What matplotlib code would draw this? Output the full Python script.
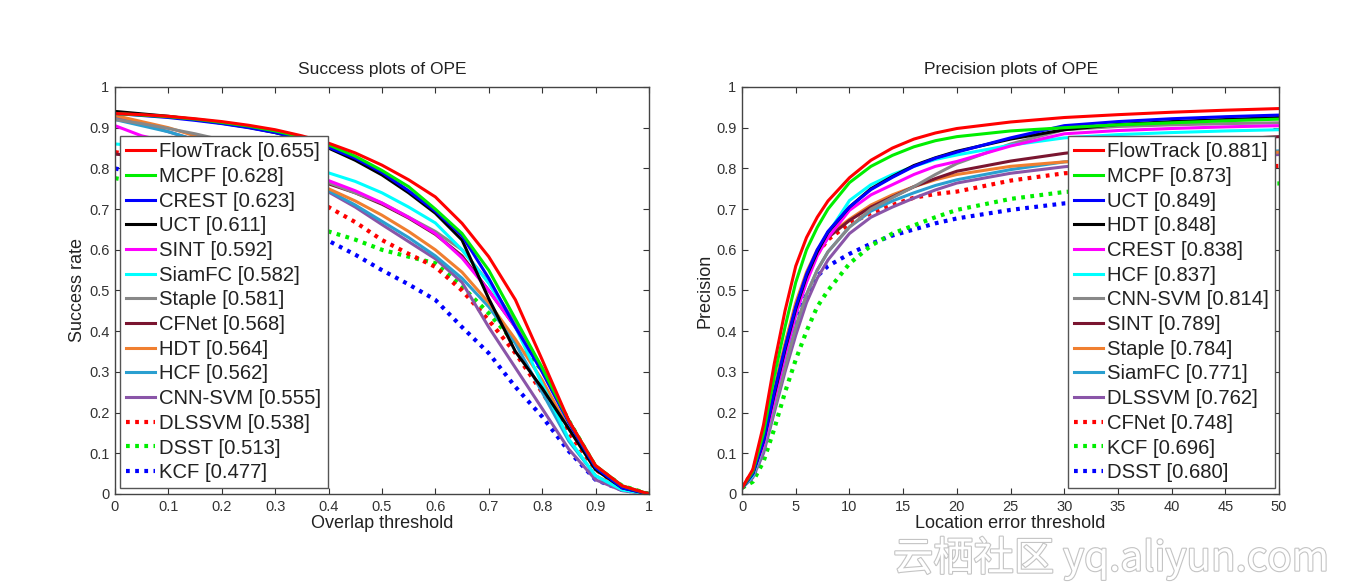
import matplotlib
matplotlib.use("Agg")
from matplotlib import pyplot as plt
import matplotlib.patheffects as pe

plt.rcParams['font.family'] = ['Liberation Sans', 'DejaVu Sans']

# ---------------- success plot data (overlap thresholds) ----------------
thr = [0.0, 0.05, 0.1, 0.15, 0.2, 0.25, 0.3, 0.35, 0.4, 0.45, 0.5,
       0.55, 0.6, 0.65, 0.7, 0.75, 0.8, 0.85, 0.9, 0.95, 1.0]

succ_names = ['FlowTrack', 'MCPF', 'CREST', 'UCT', 'SINT', 'SiamFC', 'Staple',
              'CFNet', 'HDT', 'HCF', 'CNN-SVM', 'DLSSVM', 'DSST', 'KCF']
succ_auc = ['0.655', '0.628', '0.623', '0.611', '0.592', '0.582', '0.581',
            '0.568', '0.564', '0.562', '0.555', '0.538', '0.513', '0.477']

s_flowtrack = [0.935, 0.932, 0.928, 0.922, 0.915, 0.906, 0.895, 0.88, 0.862, 0.838, 0.808,
               0.772, 0.73, 0.665, 0.583, 0.477, 0.33, 0.18, 0.07, 0.02, 0.0]
s_mcpf = [0.935, 0.931, 0.927, 0.921, 0.913, 0.904, 0.892, 0.877, 0.858, 0.83, 0.795,
          0.755, 0.70, 0.64, 0.55, 0.43, 0.31, 0.18, 0.07, 0.02, 0.0]
s_crest = [0.935, 0.93, 0.925, 0.918, 0.91, 0.90, 0.888, 0.872, 0.852, 0.825, 0.79,
           0.745, 0.695, 0.635, 0.53, 0.41, 0.30, 0.175, 0.065, 0.015, 0.0]
s_uct = [0.94, 0.934, 0.928, 0.92, 0.911, 0.901, 0.888, 0.872, 0.85, 0.82, 0.784,
         0.74, 0.69, 0.624, 0.48, 0.35, 0.26, 0.16, 0.06, 0.015, 0.0]
s_sint = [0.905, 0.88, 0.865, 0.85, 0.835, 0.82, 0.805, 0.79, 0.77, 0.745, 0.715,
          0.68, 0.64, 0.58, 0.50, 0.41, 0.305, 0.18, 0.065, 0.015, 0.0]
s_siamfc = [0.86, 0.855, 0.848, 0.84, 0.832, 0.823, 0.814, 0.802, 0.789, 0.768, 0.74,
            0.705, 0.666, 0.60, 0.518, 0.41, 0.27, 0.135, 0.045, 0.01, 0.0]
s_staple = [0.92, 0.91, 0.898, 0.885, 0.87, 0.855, 0.835, 0.80, 0.765, 0.74, 0.715,
            0.68, 0.645, 0.60, 0.52, 0.42, 0.31, 0.18, 0.065, 0.015, 0.0]
s_cfnet = [0.835, 0.83, 0.825, 0.818, 0.81, 0.80, 0.79, 0.778, 0.762, 0.74, 0.712,
           0.678, 0.638, 0.585, 0.50, 0.41, 0.305, 0.18, 0.065, 0.015, 0.0]
s_hdt = [0.93, 0.915, 0.90, 0.88, 0.86, 0.84, 0.815, 0.785, 0.75, 0.72, 0.685,
         0.645, 0.60, 0.545, 0.47, 0.38, 0.28, 0.16, 0.06, 0.015, 0.0]
s_hcf = [0.92, 0.905, 0.89, 0.87, 0.85, 0.83, 0.805, 0.775, 0.745, 0.71, 0.67,
         0.63, 0.585, 0.53, 0.46, 0.37, 0.25, 0.13, 0.045, 0.01, 0.0]
s_cnnsvm = [0.927, 0.91, 0.89, 0.87, 0.845, 0.82, 0.795, 0.77, 0.742, 0.705, 0.662,
            0.62, 0.578, 0.52, 0.41, 0.31, 0.21, 0.11, 0.035, 0.008, 0.0]
s_dlssvm = [0.84, 0.83, 0.815, 0.80, 0.785, 0.77, 0.752, 0.73, 0.705, 0.668, 0.624,
            0.59, 0.558, 0.50, 0.427, 0.346, 0.25, 0.15, 0.06, 0.015, 0.0]
s_dsst = [0.776, 0.765, 0.752, 0.738, 0.725, 0.71, 0.693, 0.672, 0.645, 0.625, 0.60,
          0.583, 0.567, 0.51, 0.444, 0.37, 0.305, 0.18, 0.067, 0.02, 0.0]
s_kcf = [0.80, 0.785, 0.77, 0.752, 0.733, 0.712, 0.69, 0.658, 0.622, 0.588, 0.55,
         0.515, 0.477, 0.41, 0.346, 0.263, 0.19, 0.105, 0.035, 0.01, 0.0]

succ_vals = [s_flowtrack, s_mcpf, s_crest, s_uct, s_sint, s_siamfc, s_staple,
             s_cfnet, s_hdt, s_hcf, s_cnnsvm, s_dlssvm, s_dsst, s_kcf]

# ---------------- precision plot data (location error thresholds) ----------------
dist = [0, 1, 2, 3, 4, 5, 6, 7, 8, 10, 12, 14, 16, 18, 20, 25, 30, 35, 40, 45, 50]

prec_names = ['FlowTrack', 'MCPF', 'UCT', 'HDT', 'CREST', 'HCF', 'CNN-SVM',
              'SINT', 'Staple', 'SiamFC', 'DLSSVM', 'CFNet', 'KCF', 'DSST']
prec_score = ['0.881', '0.873', '0.849', '0.848', '0.838', '0.837', '0.814',
              '0.789', '0.784', '0.771', '0.762', '0.748', '0.696', '0.680']

p_flowtrack = [0.015, 0.06, 0.17, 0.32, 0.45, 0.56, 0.63, 0.68, 0.72, 0.777, 0.82,
               0.85, 0.872, 0.887, 0.898, 0.914, 0.925, 0.932, 0.938, 0.943, 0.947]
p_mcpf = [0.015, 0.055, 0.15, 0.29, 0.41, 0.52, 0.60, 0.655, 0.70, 0.765, 0.805,
          0.832, 0.853, 0.868, 0.878, 0.892, 0.90, 0.907, 0.912, 0.917, 0.921]
p_uct = [0.015, 0.05, 0.13, 0.25, 0.36, 0.46, 0.54, 0.60, 0.645, 0.705, 0.748,
         0.778, 0.805, 0.825, 0.84, 0.875, 0.905, 0.915, 0.922, 0.927, 0.931]
p_hdt = [0.015, 0.05, 0.13, 0.245, 0.355, 0.455, 0.535, 0.595, 0.643, 0.705, 0.75,
         0.78, 0.807, 0.826, 0.842, 0.872, 0.895, 0.908, 0.915, 0.92, 0.925]
p_crest = [0.015, 0.05, 0.12, 0.23, 0.34, 0.44, 0.52, 0.585, 0.63, 0.697, 0.735,
           0.76, 0.785, 0.805, 0.817, 0.855, 0.885, 0.893, 0.898, 0.902, 0.905]
p_hcf = [0.015, 0.045, 0.12, 0.23, 0.34, 0.44, 0.525, 0.59, 0.64, 0.721, 0.76,
         0.785, 0.805, 0.822, 0.833, 0.857, 0.875, 0.883, 0.888, 0.892, 0.895]
p_cnnsvm = [0.015, 0.045, 0.11, 0.21, 0.31, 0.41, 0.49, 0.55, 0.595, 0.656, 0.70,
            0.728, 0.755, 0.785, 0.812, 0.86, 0.895, 0.903, 0.907, 0.91, 0.912]
p_sint = [0.015, 0.05, 0.13, 0.24, 0.35, 0.45, 0.53, 0.59, 0.63, 0.672, 0.705,
          0.73, 0.755, 0.775, 0.793, 0.818, 0.837, 0.852, 0.863, 0.871, 0.878]
p_staple = [0.015, 0.055, 0.14, 0.26, 0.37, 0.47, 0.545, 0.60, 0.635, 0.675, 0.71,
            0.735, 0.755, 0.772, 0.785, 0.805, 0.816, 0.824, 0.83, 0.835, 0.84]
p_siamfc = [0.015, 0.045, 0.11, 0.21, 0.315, 0.41, 0.49, 0.55, 0.595, 0.656, 0.695,
            0.72, 0.74, 0.758, 0.772, 0.797, 0.816, 0.826, 0.833, 0.838, 0.843]
p_dlssvm = [0.015, 0.04, 0.10, 0.20, 0.30, 0.39, 0.47, 0.53, 0.575, 0.64, 0.68,
            0.705, 0.727, 0.747, 0.764, 0.788, 0.804, 0.815, 0.823, 0.829, 0.834]
p_cfnet = [0.015, 0.055, 0.14, 0.26, 0.36, 0.46, 0.535, 0.59, 0.625, 0.664, 0.69,
           0.71, 0.728, 0.737, 0.743, 0.77, 0.788, 0.795, 0.80, 0.803, 0.806]
p_kcf = [0.015, 0.03, 0.08, 0.16, 0.25, 0.33, 0.40, 0.46, 0.50, 0.566, 0.61,
         0.64, 0.66, 0.68, 0.698, 0.725, 0.742, 0.75, 0.756, 0.76, 0.763]
p_dsst = [0.015, 0.04, 0.11, 0.21, 0.32, 0.42, 0.49, 0.535, 0.56, 0.59, 0.615,
          0.635, 0.65, 0.665, 0.677, 0.698, 0.714, 0.722, 0.728, 0.733, 0.737]

prec_vals = [p_flowtrack, p_mcpf, p_uct, p_hdt, p_crest, p_hcf, p_cnnsvm,
             p_sint, p_staple, p_siamfc, p_dlssvm, p_cfnet, p_kcf, p_dsst]

# rank styles (same for both plots, OTB toolkit style)
rank_colors = ['#ff0000', '#00ee00', '#0000ff', '#000000', '#ff00ff', '#00ffff',
               '#888888', '#7a1530', '#f07f30', '#2a9fd0', '#8a55a8',
               '#ff0000', '#00ee00', '#0000ff']
rank_dotted = [False] * 11 + [True] * 3


def draw_panel(ax, xs, names, scores, vals, title, xlab, ylab, xticks, xlim, leg_anchor):
    # draw worst first so the best ends on top
    handles = [None] * len(names)
    for i in reversed(range(len(names))):
        if rank_dotted[i]:
            h, = ax.plot(xs, vals[i], color=rank_colors[i], lw=3.0,
                         linestyle=(0, (0.9, 1.3)))
        else:
            h, = ax.plot(xs, vals[i], color=rank_colors[i], lw=2.2)
        h.set_label(names[i] + ' [' + scores[i] + ']')
        handles[i] = h
    ax.set_xlim(xlim)
    ax.set_ylim(0, 1)
    ax.set_xticks(xticks)
    ax.set_yticks([i / 10 for i in range(11)])
    ax.set_yticklabels(['0'] + ['0.%d' % i for i in range(1, 10)] + ['1'])
    if xlim[1] == 1:
        ax.set_xticklabels(['0'] + ['0.%d' % i for i in range(1, 10)] + ['1'])
    ax.tick_params(direction='in', length=4, width=0.8, top=True, right=True,
                   labelsize=10.5, colors='#333333', pad=4)
    for sp in ax.spines.values():
        sp.set_color('#444444')
        sp.set_linewidth(1.0)
    ax.set_title(title, fontsize=12.5, pad=9, color='#222222')
    ax.set_xlabel(xlab, fontsize=13, labelpad=1, color='#222222')
    ax.set_ylabel(ylab, fontsize=13, labelpad=2, color='#222222')
    leg = ax.legend(handles=handles, loc='lower left', bbox_to_anchor=leg_anchor,
                    borderaxespad=0, fontsize=14.6, labelspacing=0.28,
                    handlelength=1.45, handletextpad=0.2, borderpad=0.3,
                    fancybox=False, framealpha=1, edgecolor='#555555')
    leg.get_frame().set_linewidth(1.0)
    for t in leg.get_texts():
        t.set_color('#222222')


fig = plt.figure(figsize=(13.46, 5.85), dpi=100)
fig.patch.set_facecolor('white')

ax1 = fig.add_axes([0.0854, 0.1556, 0.3967, 0.6957])
draw_panel(ax1, thr, succ_names, succ_auc, succ_vals, 'Success plots of OPE',
           'Overlap threshold', 'Success rate', [i / 10 for i in range(11)], (0, 1),
           (0.009, 0.014))

ax2 = fig.add_axes([0.5513, 0.1556, 0.399, 0.6957])
draw_panel(ax2, dist, prec_names, prec_score, prec_vals, 'Precision plots of OPE',
           'Location error threshold', 'Precision', list(range(0, 51, 5)), (0, 50),
           (0.606, 0.014))

# site watermark
fig.text(0.8255, 0.046, '云栖社区 yq.aliyun.com', ha='center', va='center',
         fontsize=29, family=['Noto Sans CJK SC', 'DejaVu Sans'], color='white',
         path_effects=[pe.Stroke(linewidth=1.6, foreground='#c4c4c4'), pe.Normal()])

fig.savefig('out.png', dpi=100, facecolor='white')
